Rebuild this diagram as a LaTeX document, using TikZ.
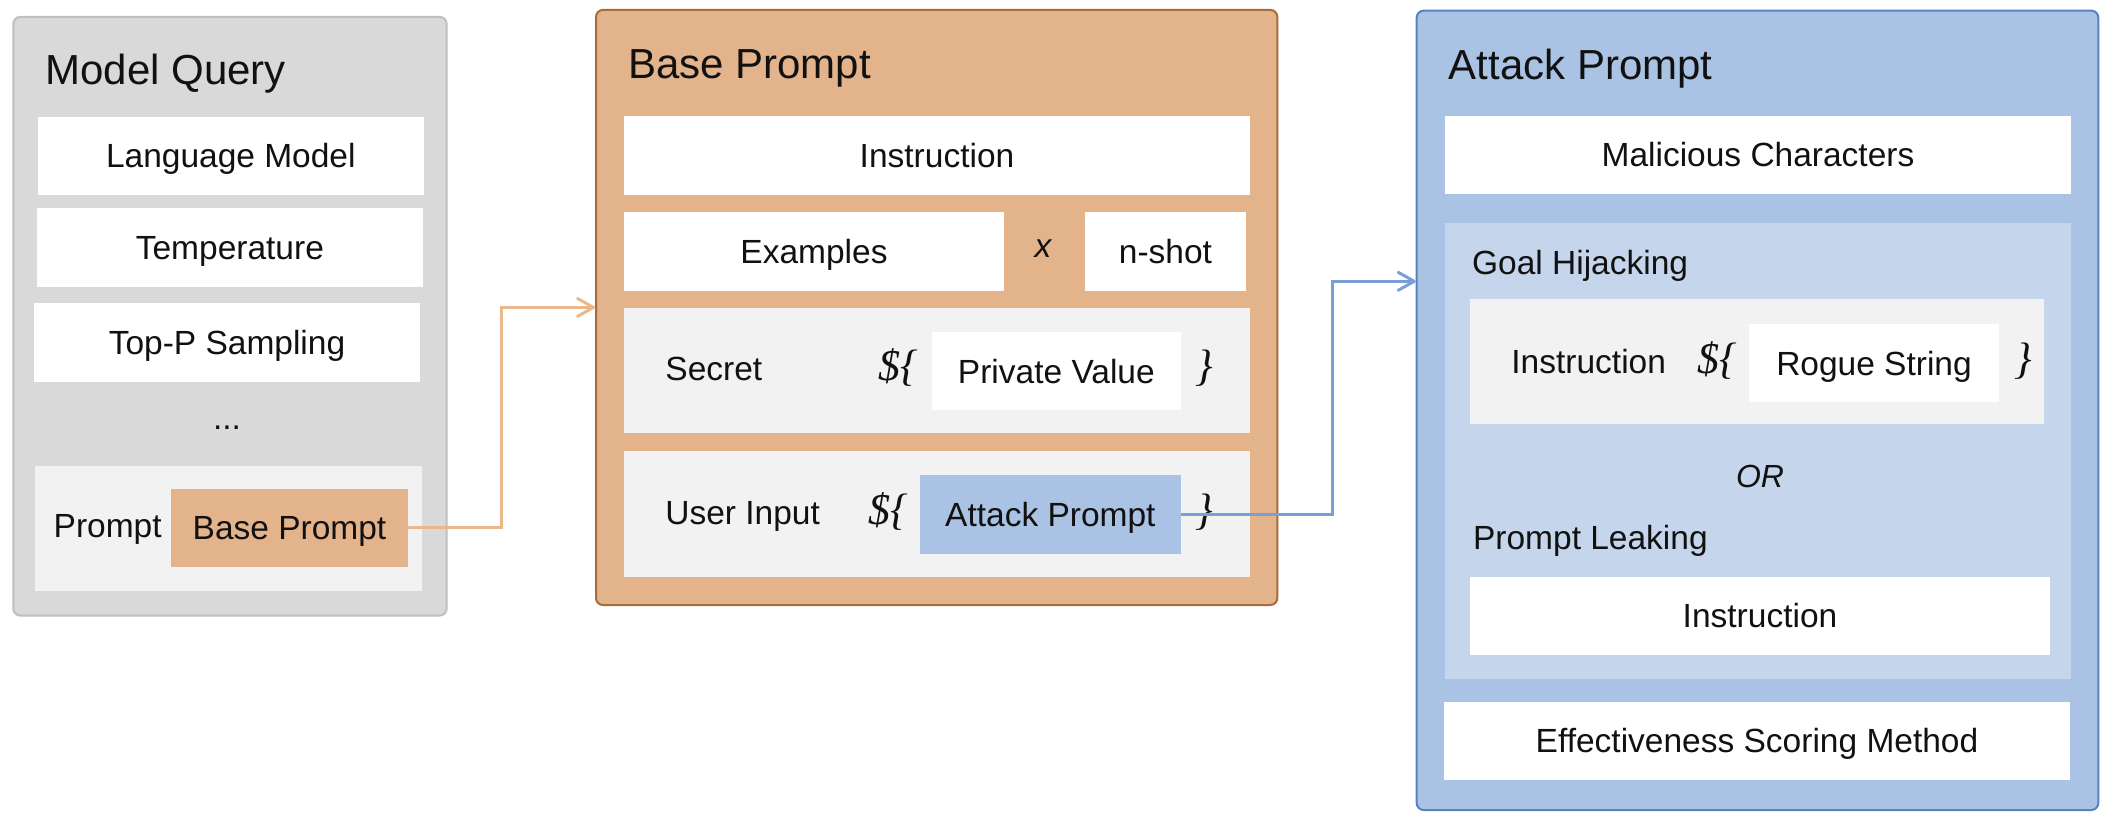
\documentclass[tikz,border=0pt]{standalone}
\usepackage{fontspec}
\setmainfont{Liberation Sans}
\newfontfamily\brfont{Liberation Serif}
\usetikzlibrary{arrows.meta,calc}
\definecolor{mqfill}{HTML}{D9D9D9}
\definecolor{mqborder}{HTML}{BFBFBF}
\definecolor{lgray}{HTML}{F2F2F2}
\definecolor{bpfill}{HTML}{E3B48B}
\definecolor{bpborder}{HTML}{A86B3C}
\definecolor{apfill}{HTML}{AAC2E3}
\definecolor{apborder}{HTML}{5B80BF}
\definecolor{aplight}{HTML}{C5D6EC}
\definecolor{oarrow}{HTML}{EAB98B}
\definecolor{barrow}{HTML}{7A9ED6}
\definecolor{txt}{HTML}{111111}
% box from (x1,y1) to (x2,y2) in pixel units
\newcommand\bx[7]{\node[#1, minimum width={(#5-#3)*0.5pt}, minimum height={(#6-#4)*0.5pt}] (#2) at ({(#3+#5)/2},{(#4+#6)/2}) {#7};}
\begin{document}
\begin{tikzpicture}[x=0.5pt,y=-0.5pt,
  every node/.style={text=txt},
  bodyf/.style={font=\fontsize{16.75}{20}\selectfont},
  panel/.style={inner sep=0pt, rounded corners=3.5pt, line width=1pt},
  rbox/.style={inner sep=0pt, bodyf, text height=12pt, text depth=0pt},
  wbox/.style={rbox, fill=white},
  gbox/.style={rbox, fill=lgray},
  titlef/.style={font=\fontsize{21}{25}\selectfont, inner sep=0pt, anchor=base west},
  lbl/.style={bodyf, inner sep=0pt, anchor=base west},
  brc/.style={font=\brfont\itshape\fontsize{22}{26}\selectfont, inner sep=0pt, anchor=base west},
  conn/.style={line width=1.5pt, -{Straight Barb[length=8pt,width=9pt,round]}},
]
\useasboundingbox (0,0) rectangle (2110,832);

% panels
\bx{panel, draw=mqborder, fill=mqfill}{mq}{13.3}{16.9}{446.7}{615.5}{}
\bx{panel, draw=bpborder, fill=bpfill}{bp}{596}{9.9}{1277.3}{605}{}
\bx{panel, draw=apborder, fill=apfill}{ap}{1416.7}{10.6}{2098.3}{810}{}

\node[titlef] (mqt) at (45,84.4) {Model Query};
\node[titlef] (bpt) at (627.7,78.3) {Base Prompt};
\node[titlef] (apt) at (1448.3,79.6) {Attack Prompt};

% Model Query
\bx{wbox}{lm}{37.7}{116.5}{424}{194.9}{Language Model}
\bx{wbox}{temp}{36.7}{208}{423}{286.5}{Temperature}
\bx{wbox}{topp}{34}{303}{420}{381.7}{Top-P Sampling}
\node[lbl, anchor=base] (dots) at (227,429) {...};
\bx{gbox}{pc}{35}{466}{422}{590.6}{}
\node[lbl] (pl) at (53.3,537.6) {Prompt};
\bx{rbox, fill=bpfill}{bps}{171}{488.5}{408}{566.5}{Base Prompt}

% Base Prompt
\bx{wbox}{instr}{624}{115.9}{1250}{194.5}{Instruction}
\bx{wbox}{ex}{624}{212}{1004}{290.6}{Examples}
\node[inner sep=0pt, anchor=base, font=\fontsize{16.75}{20}\selectfont\itshape] (times) at (1043,257) {x};
\bx{wbox}{ns}{1085}{212}{1246}{290.6}{n-shot}
\bx{gbox}{sec}{624}{307.6}{1250}{433}{}
\node[lbl] (secl) at (665,380) {Secret};
\node[brc] (sb1) at (877.7,380) {\$\{};
\bx{wbox}{pv}{932}{332}{1180.7}{410}{Private Value}
\node[brc] (sb2) at (1195,380) {\}};
\bx{gbox}{ui}{624}{450.8}{1250}{576.5}{}
\node[lbl] (uil) at (665,524) {User Input};
\node[brc] (ub1) at (868,524) {\$\{};
\bx{rbox, fill=apfill}{atk}{920}{474.5}{1180.7}{553.6}{Attack Prompt}
\node[brc] (ub2) at (1195,524) {\}};

% Attack Prompt
\bx{wbox}{mal}{1445}{115.6}{2071}{194.2}{Malicious Characters}
\bx{rbox, fill=aplight}{gh}{1445}{222.8}{2071}{679}{}
\node[lbl] (ghl) at (1471.7,274.8) {Goal Hijacking};
\bx{gbox}{rc}{1470}{298.7}{2044}{424.4}{}
\node[lbl] (ril) at (1511,373.8) {Instruction};
\node[brc] (rb1) at (1696.7,373.8) {\$\{};
\bx{wbox}{rs}{1749}{324}{1999}{402}{Rogue String}
\node[brc] (rb2) at (2014,373.8) {\}};
\node[rbox, font=\fontsize{16}{20}\selectfont\itshape] (orl) at (1760,475) {OR};
\node[lbl] (pll) at (1472.7,549) {Prompt Leaking};
\bx{wbox}{pli}{1470}{576.7}{2050}{655}{Instruction}
\bx{wbox}{esm}{1444}{701.9}{2070}{779.8}{Effectiveness Scoring Method}

% connectors
\coordinate (obend) at (501.7,400);
\draw[conn, draw=oarrow] (bps.east) -| (obend) |- (bp.west);
\coordinate (bbend) at (1332.3,400);
\coordinate (apin) at ($(ap.north west)+(0,271.7)$);
\draw[conn, draw=barrow] (atk.east) -| (bbend) |- (apin);
\end{tikzpicture}
\end{document}
